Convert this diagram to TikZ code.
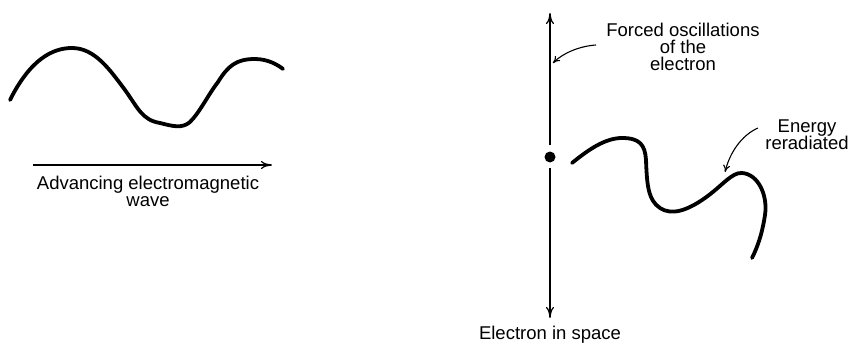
\documentclass[tikz,border=0pt]{standalone}
\usepackage{fontspec}
\setmainfont{Liberation Sans}
\usetikzlibrary{arrows.meta}
\begin{document}
\begin{tikzpicture}[x=1pt,y=-1pt,
  wave/.style={line width=3.8pt,line cap=round,line join=round},
  axis/.style={line width=1.4pt,-{To[length=11pt,width=8pt,line width=1.2pt]}},
  pointer/.style={line width=1.1pt,-{To[length=7pt,width=7pt]}},
  lbl/.style={font=\fontsize{18.5}{20}\selectfont,align=center,inner sep=0pt}]
\useasboundingbox (0,0) rectangle (852,345);
% left wave
\draw[wave] (10,100) .. controls (30,60) and (52,48) .. (72,48)
  .. controls (95,48) and (110,70) .. (125,90)
  .. controls (138,108) and (142,120) .. (160,123)
  .. controls (172,126) and (182,129) .. (190,122)
  .. controls (200,112) and (208,95) .. (218,82)
  .. controls (228,66) and (236,59) .. (255,59)
  .. controls (268,59) and (278,65) .. (283,69);
\coordinate (as) at (33,165);
\coordinate (ae) at (272,165);
\draw[axis] (as) -- (ae);
\node[lbl] (adv) at (148,191) {Advancing electromagnetic\\[-3pt]wave};
% electron
\node[circle,fill,inner sep=0pt,minimum size=11pt] (dot) at (550,157) {};
\coordinate (vtop) at (550,13);
\coordinate (vbot) at (550,318);
\coordinate (vtopst) at (550,145);
\coordinate (vbotst) at (550,168);
\draw[axis] (vtopst) -- (vtop);
\draw[axis] (vbotst) -- (vbot);
\node[lbl,anchor=north] (space) at (550,326) {Electron in space};
\node[lbl] (forced) at (683,47) {Forced oscillations\\[-3pt]of the\\[-3pt]electron};
\coordinate (fs) at (596,45);
\coordinate (fe) at (553,63);
\draw[pointer] (fs) .. controls (580,46) and (563,53) .. (fe);
% reradiated wave
\draw[wave] (572,163) .. controls (588,150) and (605,138) .. (622,138)
  .. controls (640,138) and (645,145) .. (646,160)
  .. controls (647,185) and (648,200) .. (660,208)
  .. controls (672,216) and (688,210) .. (705,198)
  .. controls (722,186) and (732,172) .. (742,173)
  .. controls (758,174) and (768,195) .. (765,215)
  .. controls (762,235) and (757,248) .. (752,258);
\node[lbl] (energy) at (807,135) {Energy\\[-3pt]reradiated};
\coordinate (es) at (758,128);
\coordinate (ee) at (725,172);
\draw[pointer] (es) .. controls (742,135) and (730,152) .. (ee);
\end{tikzpicture}
\end{document}
